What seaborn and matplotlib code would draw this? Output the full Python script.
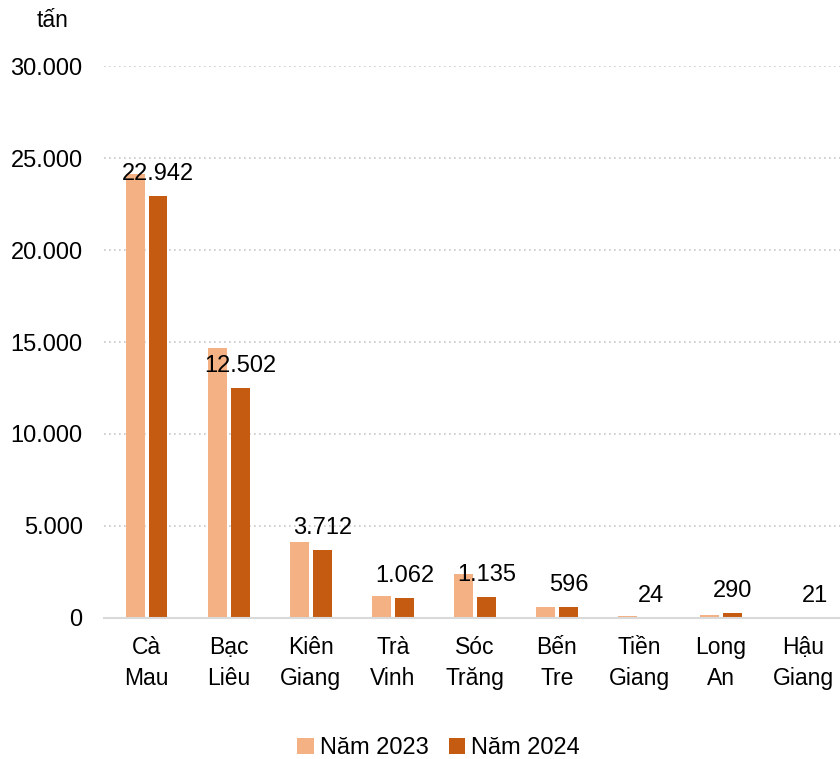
import matplotlib
matplotlib.use("Agg")
import matplotlib.pyplot as plt
import seaborn as sns
import pandas as pd

categories = ["Cà\nMau", "Bạc\nLiêu", "Kiên\nGiang", "Trà\nVinh", "Sóc\nTrăng",
              "Bến\nTre", "Tiền\nGiang", "Long\nAn", "Hậu\nGiang"]
values_2023 = [24130, 14660, 4110, 1220, 2400, 620, 90, 175, 0]
values_2024 = [22942, 12502, 3712, 1062, 1135, 596, 24, 290, 21]
series_names = ["Năm 2023", "Năm 2024"]
y_ticks = [0, 5000, 10000, 15000, 20000, 25000, 30000]

def fmt(v):
    return f"{v:,.0f}".replace(",", ".")

sns.set_theme(style="white")
plt.rcParams["font.family"] = ["Liberation Sans", "DejaVu Sans"]
plt.rcParams["text.color"] = "black"
plt.rcParams["xtick.color"] = "black"
plt.rcParams["ytick.color"] = "black"

df = pd.DataFrame({
    "cat": categories * 2,
    "val": values_2023 + values_2024,
    "series": [series_names[0]] * len(categories) + [series_names[1]] * len(categories),
})

fig = plt.figure(figsize=(8.4, 7.59), dpi=100)
ax = fig.add_axes([0.124, 0.1858, 0.876, 0.7272])

sns.barplot(data=df, x="cat", y="val", hue="series", order=categories,
            hue_order=series_names, palette=["#F4B183", "#C55A11"],
            saturation=1, width=0.56, gap=0.2, ax=ax, legend=True, errorbar=None,
            edgecolor="none", linewidth=0)

ax.set_ylim(0, 30000)
ax.set_xlim(-0.52, 8.45)
ax.set_yticks(y_ticks)
ax.set_yticklabels([fmt(v) for v in y_ticks], fontsize=17)
ax.tick_params(axis="y", length=0, pad=15.5, labelcolor="black")
ax.tick_params(axis="x", length=0, pad=13, labelsize=16.5, labelcolor="black")
for lab in ax.get_xticklabels():
    lab.set_linespacing(1.45)
ax.set_xlabel("")
ax.set_ylabel("")
ax.yaxis.grid(True, linestyle=(0, (1, 2)), color="#c8c8c8", linewidth=1.2)
ax.set_axisbelow(True)
for s in ["top", "right", "left"]:
    ax.spines[s].set_visible(False)
ax.spines["bottom"].set_color("#d9d9d9")
ax.spines["bottom"].set_linewidth(1.5)

for i, v in enumerate(values_2024):
    x = i + 0.14
    ax.annotate(fmt(v), xy=(x, v), xytext=(0, 11.5), textcoords="offset points",
                ha="center", va="baseline", fontsize=17, color="black")

fig.text(0.063, 0.973, "tấn", fontsize=16.5, ha="center", va="center", color="black")

handles, labels = ax.get_legend_handles_labels()
ax.legend_.remove()
leg = fig.legend(handles, labels, loc="center", bbox_to_anchor=(0.522, 0.014), ncol=2,
                 frameon=False, fontsize=17, handlelength=0.7, handleheight=0.7,
                 handletextpad=0.25, columnspacing=0.85)
for t in leg.get_texts():
    t.set_color("black")

fig.savefig("out.png", dpi=100)
